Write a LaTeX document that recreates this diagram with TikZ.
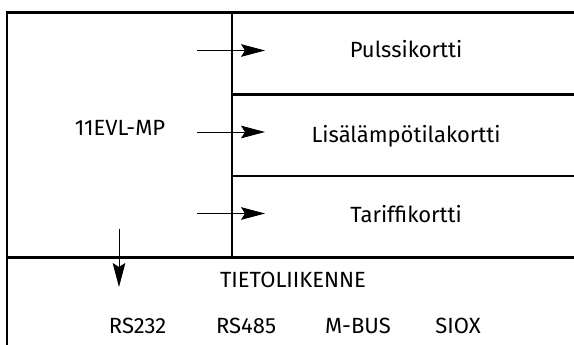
\documentclass[tikz,border=0pt]{standalone}
\usepackage{fontspec}
\IfFontExistsTF{Fira Sans Book}{\setmainfont{Fira Sans Book}}{\setmainfont{Fira Sans}}
\usetikzlibrary{arrows.meta}
\begin{document}
\begin{tikzpicture}[x=0.75pt,y=-0.75pt,
  frame/.style={line width=2.2pt, line cap=rect},
  arr/.style={line width=0.7pt, -{Stealth[length=18pt,width=9.5pt,inset=3pt]}},
  lbl/.style={anchor=base, inner sep=0pt, font=\fontsize{16.5pt}{18pt}\selectfont}]
\useasboundingbox (0,0) rectangle (574,345);
% frame lines
\draw[frame] (7,12.5) -- (575,12.5);
\draw[frame] (7,12.5) -- (7,346);
\draw[frame] (232,12.5) -- (232,257.5);
\draw[frame] (232,94.5) -- (575,94.5);
\draw[frame] (232,176) -- (575,176);
\draw[frame] (7,257.5) -- (575,257.5);
% labels
\node[lbl] (mp) at (120,136) {11EVL-MP};
\node[lbl] (puls) at (406,58) {Pulssikortti};
\node[lbl] (lisa) at (406,143) {Lisälämpötilakortti};
\node[lbl] (tar) at (406,223) {Tariffikortti};
\node[lbl] (tieto) at (293,287) {TIETOLIIKENNE};
\node[lbl] (rs232) at (137.5,333) {RS232};
\node[lbl] (rs485) at (246,333) {RS485};
\node[lbl] (mbus) at (358,333) {M-BUS};
\node[lbl] (siox) at (458,333) {SIOX};
% arrows
\coordinate (a1s) at (197,50.5);
\coordinate (a1e) at (265,50.5);
\coordinate (a2s) at (197,132);
\coordinate (a2e) at (265,132);
\coordinate (a3s) at (197,213.5);
\coordinate (a3e) at (265,213.5);
\coordinate (d1s) at (119,229);
\coordinate (d1e) at (119,287);
\draw[arr] (a1s) -- (a1e);
\draw[arr] (a2s) -- (a2e);
\draw[arr] (a3s) -- (a3e);
\draw[arr] (d1s) -- (d1e);
\end{tikzpicture}
\end{document}
